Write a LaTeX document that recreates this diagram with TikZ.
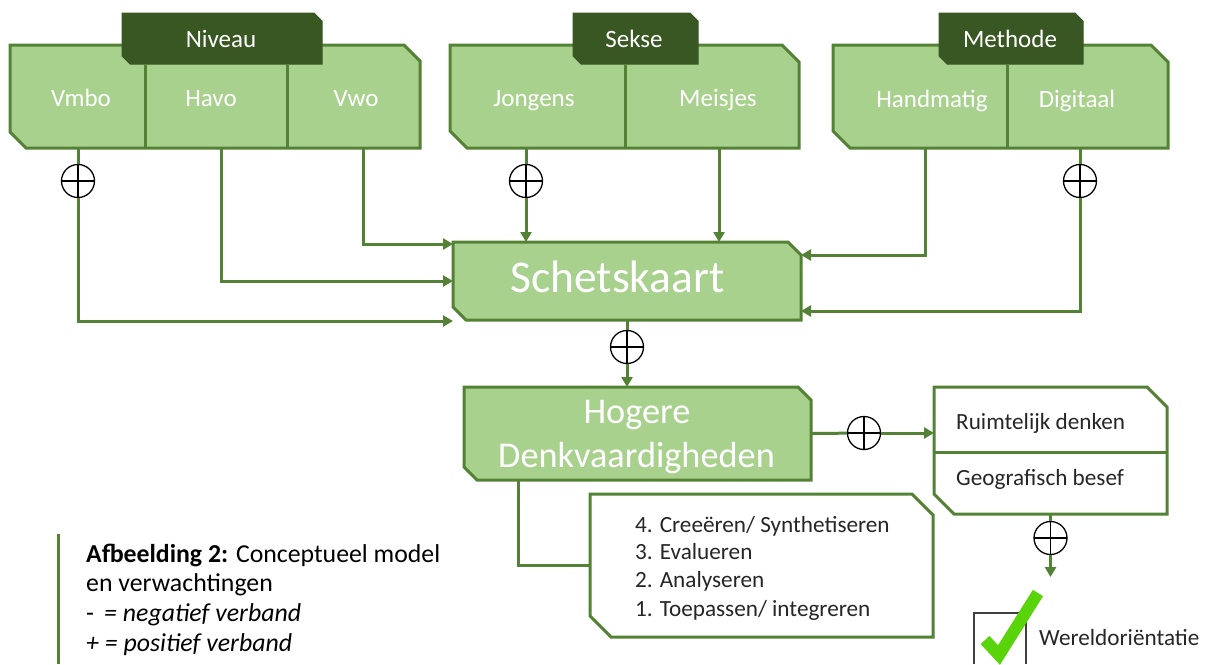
\documentclass[tikz,border=0pt]{standalone}
\usepackage{fontspec}
\setmainfont{Carlito}
\usetikzlibrary{arrows.meta,calc}
\definecolor{gline}{RGB}{84,130,53}
\definecolor{gfill}{RGB}{169,209,142}
\definecolor{gdark}{RGB}{56,87,35}
\definecolor{txtgray}{RGB}{38,38,38}
\definecolor{chkgreen}{RGB}{90,212,10}
\newcommand\chamfbox[3]{\path[#3] (#1.north west) -- ([xshift=-#2]#1.north east) -- ([yshift=-#2]#1.north east) -- (#1.south east) -- ([xshift=#2]#1.south west) -- ([yshift=#2]#1.south west) -- cycle;}
\tikzset{
  box/.style={rectangle, inner sep=0pt, outer sep=0pt},
  gbox/.style={fill=gfill, draw=gline, line width=3pt},
  wbox/.style={fill=white, draw=gline, line width=3pt},
  tabbox/.style={fill=gdark, draw=gdark, line width=1pt},
  plain/.style={draw=gline, line width=3pt},
  conn/.style={draw=gline, line width=3pt, -{Triangle[length=10pt,width=11pt]}},
  plus/.style={circle, draw=black, fill=white, line width=1.3pt, minimum size=33pt, inner sep=0pt,
    path picture={\draw[line width=1.3pt] (path picture bounding box.north) -- (path picture bounding box.south)
      (path picture bounding box.west) -- (path picture bounding box.east);}},
  lbl/.style={text=white, font=\fontsize{25}{30}\selectfont, anchor=base, inner sep=0pt},
  big/.style={text=white, font=\fontsize{45.5}{50}\selectfont, anchor=base, inner sep=0pt},
  mid/.style={text=white, font=\fontsize{36.3}{42}\selectfont, anchor=base, inner sep=0pt},
  small/.style={text=txtgray, font=\fontsize{23.2}{28}\selectfont, anchor=base west, inner sep=0pt},
  legend/.style={text=black, font=\fontsize{25.8}{30}\selectfont, anchor=base west, inner sep=0pt},
}
\begin{document}
\begin{tikzpicture}[x=1pt,y=-1pt]
\useasboundingbox (0,0) rectangle (1209,664);
% box anchors
\node[box, minimum width=410pt, minimum height=103pt] (niv) at (215,96.5) {};
\node[box, minimum width=349pt, minimum height=103pt] (sek) at (624.5,96.5) {};
\node[box, minimum width=335pt, minimum height=103pt] (met) at (1000.5,96.5) {};
\node[box, minimum width=200pt, minimum height=51pt] (tniv) at (222,38.5) {};
\node[box, minimum width=125pt, minimum height=51pt] (tsek) at (635.5,38.5) {};
\node[box, minimum width=144pt, minimum height=51pt] (tmet) at (1011,38.5) {};
\node[box, minimum width=348pt, minimum height=78pt] (sch) at (627,281) {};
\node[box, minimum width=347pt, minimum height=93pt] (hog) at (637.5,433.5) {};
\node[box, minimum width=233pt, minimum height=127pt] (rd) at (1050.5,450.5) {};
\node[box, minimum width=343pt, minimum height=143pt] (lst) at (761.5,565.5) {};
% shapes
\chamfbox{niv}{16pt}{gbox}
\chamfbox{sek}{17pt}{gbox}
\chamfbox{met}{17pt}{gbox}
\chamfbox{tniv}{8pt}{tabbox}
\chamfbox{tsek}{8pt}{tabbox}
\chamfbox{tmet}{8pt}{tabbox}
\chamfbox{sch}{13pt}{gbox}
\chamfbox{hog}{13pt}{gbox}
\chamfbox{rd}{20pt}{wbox}
\chamfbox{lst}{21pt}{wbox}
\draw[plain] (145,64) -- (145,148) (287,64) -- (287,148);
\draw[plain] (625,64) -- (625,148);
\draw[plain] (1007,64) -- (1007,148);
\draw[plain] (934,452) -- (1167,452);
% connector points
\coordinate (sVmbo) at (78,148);
\coordinate (sHavo) at (221,148);
\coordinate (sVwo) at (363,148);
\coordinate (sJon) at (526,148);
\coordinate (sMei) at (719,148);
\coordinate (sHand) at (925,148);
\coordinate (sDig) at (1080,148);
\coordinate (eVmbo) at (453,321);
\coordinate (eVwo) at (453,244);
\coordinate (eHand) at (801,255);
\coordinate (eDig) at (801,311);
\coordinate (sList) at (518,480);
\coordinate (eChk) at (1050.5,577);
% plus circles
\node[plus] (p1) at (78,181) {};
\node[plus] (p2) at (526,181) {};
\node[plus] (p3) at (1080,181) {};
\node[plus] (p4) at (627,347) {};
\node[plus] (p5) at (864,433) {};
\node[plus] (p6) at (1050.5,538) {};
% connectors
\draw[plain] (sVmbo) -- (p1);
\draw[conn] (p1) |- (eVmbo);
\draw[conn] (sHavo) |- (sch.west);
\draw[conn] (sVwo) |- (eVwo);
\draw[plain] (sJon) -- (p2);
\draw[conn] (p2) -- (p2 |- sch.north);
\draw[conn] (sMei) -- (sMei |- sch.north);
\draw[conn] (sHand) |- (eHand);
\draw[plain] (sDig) -- (p3);
\draw[conn] (p3) |- (eDig);
\draw[plain] (sch.south) -- (p4);
\draw[conn] (p4) -- (p4 |- hog.north);
\draw[plain] (hog.east) -- (p5);
\draw[conn] (p5) -- (p5 -| rd.west);
\draw[plain] (sList) |- (lst.west);
\draw[plain] (rd.south) -- (p6);
\draw[conn] (p6) -- (eChk);
% texts
\node[lbl] (tNiv) at (221,47) {Niveau};
\node[lbl] (tSek) at (634,47) {Sekse};
\node[lbl] (tMet) at (1010,47) {Methode};
\node[lbl] (tVmbo) at (81,106) {Vmbo};
\node[lbl] (tHavo) at (211,106) {Havo};
\node[lbl] (tVwo) at (356,106) {Vwo};
\node[lbl] (tJon) at (534,106) {Jongens};
\node[lbl] (tMei) at (718,106) {Meisjes};
\node[lbl] (tHand) at (932,107) {Handmatig};
\node[lbl] (tDig) at (1077,107) {Digitaal};
\node[big] (tSch) at (617.5,292) {Schetskaart};
\node[mid] (tHog1) at (637,423) {Hogere};
\node[mid] (tHog2) at (636.5,467) {Denkvaardigheden};
\node[small] (tRd1) at (956,429) {Ruimtelijk denken};
\node[small] (tRd2) at (956,485) {Geografisch besef};
\node[small] (l1) at (635,532) {4. Creeëren/ Synthetiseren};
\node[small] (l2) at (635,559) {3. Evalueren};
\node[small] (l3) at (635,587) {2. Analyseren};
\node[small] (l4) at (635,616) {1. Toepassen/ integreren};
% legend
\draw[plain] (58,534) -- (58,664);
\node[legend] (leg1) at (86,562) {\textbf{Afbeelding 2:} Conceptueel model};
\node[legend] (leg2) at (86,591) {en verwachtingen};
\node[legend] (leg3) at (86,621) {-\,\ \textit{= negatief verband}};
\node[legend] (leg4) at (86,651) {\textit{+ = positief verband}};
% check
\draw[line width=1.5pt, draw=black!75] (974,664) -- (974,613) -- (1026,613) -- (1026,664);
\draw[line width=12pt, draw=chkgreen] (985,640) -- (999,655) -- (1038,593);
\node[small, text=black!85] (tWo) at (1039,645) {Wereldoriëntatie};
\end{tikzpicture}
\end{document}
